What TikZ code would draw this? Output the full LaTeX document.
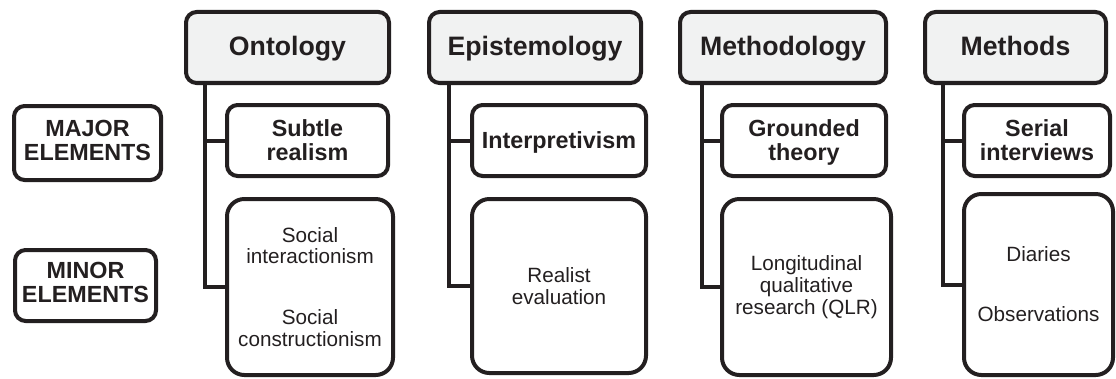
\documentclass[tikz,border=0pt]{standalone}
\usepackage{fontspec}
\setmainfont{Liberation Sans}
\usepackage{xcolor}
\usepackage{tikz}
\definecolor{ink}{HTML}{231F20}
\definecolor{hdrfill}{HTML}{F1F2F2}

\begin{document}
\begin{tikzpicture}[x=0.75pt,y=-0.75pt,
    box/.style={draw=ink,line width=3pt,inner sep=0pt,align=center,text=ink},
    hdr/.style={box,fill=hdrfill,rounded corners=8pt,minimum height=53.25pt,
      text depth=1.8pt,font=\bfseries\fontsize{20}{22}\selectfont},
    sub/.style={box,rounded corners=8pt,minimum height=53.25pt,
      text depth=1.3pt,font=\bfseries\fontsize{17.5}{18}\selectfont},
    minor/.style={box,rounded corners=13pt,
      font=\fontsize{15.5}{16.3}\selectfont},
    link/.style={draw=ink,line width=3pt}]
  \useasboundingbox (0,0) rectangle (1116,378);
  % left labels
  \node[sub,minimum width=110.25pt,minimum height=55.5pt,text depth=4.5pt] at (87.5,143) (major) {MAJOR\\ELEMENTS};
  \node[sub,minimum width=105.75pt,text depth=4pt] at (85.5,285.5) (minorlbl) {MINOR\\ELEMENTS};
  % headers
  \node[hdr,minimum width=152.25pt] at (287.5,47.5) (ont) {Ontology};
  \node[hdr,minimum width=159pt] at (535,47.5) (epi) {Epistemology};
  \node[hdr,minimum width=154.5pt] at (783,47.5) (mth) {Methodology};
  \node[hdr,minimum width=135.75pt] at (1015.5,47.5) (mts) {Methods};
  % major elements
  \node[sub,minimum width=120.75pt] at (307.5,140.5) (ont-sub) {Subtle\\realism};
  \node[sub,minimum width=130.5pt] at (559,140.5) (epi-sub) {Interpretivism};
  \node[sub,minimum width=123pt] at (804,140.5) (mth-sub) {Grounded\\theory};
  \node[sub,minimum width=109.5pt] at (1037,140.5) (mts-sub) {Serial\\interviews};
  % minor elements
  \node[minor,minimum width=124.5pt,minimum height=132pt] at (310,287) (ont-min)
    {Social\\interactionism\\[29.5pt]Social\\constructionism};
  \node[minor,minimum width=130.5pt,minimum height=130.5pt] at (559,286) (epi-min)
    {Realist\\evaluation};
  \node[minor,minimum width=126.75pt,minimum height=132pt] at (806.5,287) (mth-min)
    {Longitudinal\\qualitative\\research (QLR)};
  \node[minor,minimum width=111.75pt,minimum height=135.75pt] at (1038.5,284.5) (mts-min)
    {Diaries\\[28.7pt]Observations};
  % connectors
  \foreach \c/\x in {ont/205,epi/449,mth/702,mts/943}{
    \coordinate (\c-t) at (\x,83);
    \draw[link] (\c-t) |- (\c-min.west);
    \draw[link] (\c-t |- \c-sub.west) -- (\c-sub.west);
  }
\end{tikzpicture}
\end{document}
